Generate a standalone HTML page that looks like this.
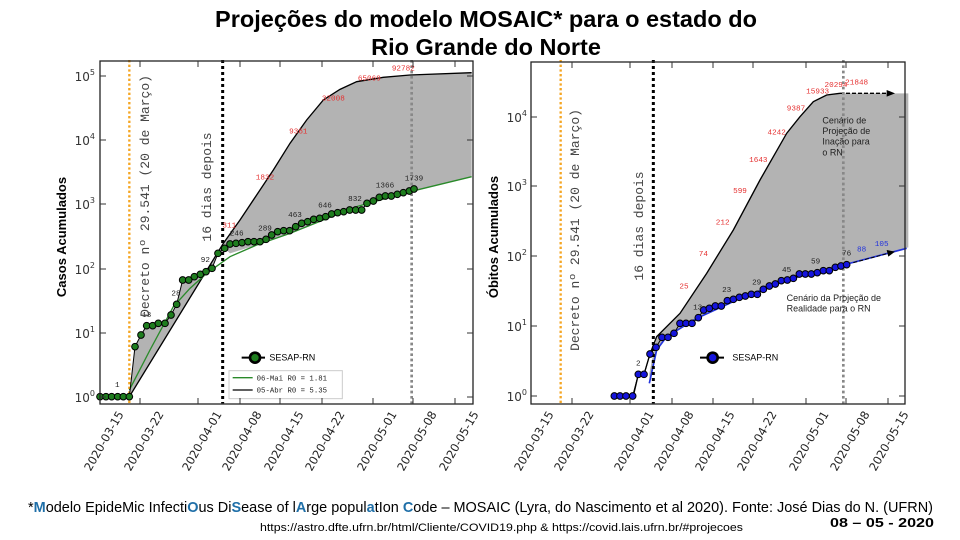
<!DOCTYPE html>
<html><head><meta charset="utf-8"><style>
html,body{margin:0;padding:0;background:#fff;}
svg{display:block;}
.mono{font-family:"Liberation Mono","DejaVu Sans Mono",monospace;}
.sans{font-family:"Liberation Sans",sans-serif;}
.dv{font-family:"DejaVu Sans",sans-serif;}
</style></head><body>
<svg width="960" height="540" viewBox="0 0 960 540" xmlns="http://www.w3.org/2000/svg">
<rect width="960" height="540" fill="#fff"/>
<!-- Title -->
<text x="486" y="27" text-anchor="middle" class="sans" font-weight="bold" font-size="23.5">Projeções do modelo  MOSAIC* para o estado do</text>
<text x="486" y="55" text-anchor="middle" class="sans" font-weight="bold" font-size="23.5">Rio Grande do Norte</text>

<!-- ===== LEFT PLOT ===== -->
<g transform="translate(90,60) scale(0.33333)">
  <polygon fill="#b3b3b3" points="118,1010 400,550 450,480 500,405 550,330 600,250 650,180 700,120 750,88 800,65 880,52 960,45 1145,38 1145,350 960,395 800,440 700,480 600,520 500,555 420,580 404,565 384,580 366,625 348,635 331,643 313,650 296,660 278,660 260,733 243,765 225,790 205,790 188,797 170,797 153,825 135,860"/>
  <polyline fill="none" stroke="#000" stroke-width="4" points="118,1010 400,550 450,480 500,405 550,330 600,250 650,180 700,120 750,88 800,65 880,52 960,45 1145,38"/>
  <polyline fill="none" stroke="#2a8a2a" stroke-width="4" points="118,990 180,870 250,740 300,685 350,640 420,590 500,555 600,520 700,480 800,440 960,395 1145,350"/>
  <line x1="118" y1="0" x2="118" y2="1030" stroke="#f5a623" stroke-width="7" stroke-dasharray="7,7"/>
  <line x1="398" y1="0" x2="398" y2="1030" stroke="#000" stroke-width="9" stroke-dasharray="9,9"/>
  <line x1="965" y1="0" x2="965" y2="1030" stroke="#888" stroke-width="8" stroke-dasharray="8,8"/>
  <polyline fill="none" stroke="#000" stroke-width="3" points="30,1010 48,1010 65,1010 83,1010 100,1010 118,1010 135,860 153,825 170,797 188,797 205,790 225,790 243,765 260,733 278,660 296,660 313,650 331,643 348,635 366,625 384,580 404,565 420,552 438,550 456,548 474,545 492,545 510,545 528,538 545,525 563,515 581,512 599,512 617,500 635,490 653,485 671,478 689,475 707,470 725,462 743,458 761,455 779,450 797,450 815,450 831,430 850,423 868,412 886,408 904,408 922,403 940,398 958,393 972,387"/>
  <g fill="#1e7d1e" stroke="#000" stroke-width="3">
  <circle cx="30" cy="1010" r="10"/><circle cx="48" cy="1010" r="10"/><circle cx="65" cy="1010" r="10"/><circle cx="83" cy="1010" r="10"/><circle cx="100" cy="1010" r="10"/><circle cx="118" cy="1010" r="10"/><circle cx="135" cy="860" r="10"/><circle cx="153" cy="825" r="10"/><circle cx="170" cy="797" r="10"/><circle cx="188" cy="797" r="10"/><circle cx="205" cy="790" r="10"/><circle cx="225" cy="790" r="10"/><circle cx="243" cy="765" r="10"/><circle cx="260" cy="733" r="10"/><circle cx="278" cy="660" r="10"/><circle cx="296" cy="660" r="10"/><circle cx="313" cy="650" r="10"/><circle cx="331" cy="643" r="10"/><circle cx="348" cy="635" r="10"/><circle cx="366" cy="625" r="10"/><circle cx="384" cy="580" r="10"/><circle cx="404" cy="565" r="10"/><circle cx="420" cy="552" r="10"/><circle cx="438" cy="550" r="10"/><circle cx="456" cy="548" r="10"/><circle cx="474" cy="545" r="10"/><circle cx="492" cy="545" r="10"/><circle cx="510" cy="545" r="10"/><circle cx="528" cy="538" r="10"/><circle cx="545" cy="525" r="10"/><circle cx="563" cy="515" r="10"/><circle cx="581" cy="512" r="10"/><circle cx="599" cy="512" r="10"/><circle cx="617" cy="500" r="10"/><circle cx="635" cy="490" r="10"/><circle cx="653" cy="485" r="10"/><circle cx="671" cy="478" r="10"/><circle cx="689" cy="475" r="10"/><circle cx="707" cy="470" r="10"/><circle cx="725" cy="462" r="10"/><circle cx="743" cy="458" r="10"/><circle cx="761" cy="455" r="10"/><circle cx="779" cy="450" r="10"/><circle cx="797" cy="450" r="10"/><circle cx="815" cy="450" r="10"/><circle cx="831" cy="430" r="10"/><circle cx="850" cy="423" r="10"/><circle cx="868" cy="412" r="10"/><circle cx="886" cy="408" r="10"/><circle cx="904" cy="408" r="10"/><circle cx="922" cy="403" r="10"/><circle cx="940" cy="398" r="10"/><circle cx="958" cy="393" r="10"/><circle cx="972" cy="387" r="10"/>
  </g>
  <g class="mono" font-size="23" fill="#e53030" text-anchor="middle">
  <text x="418" y="503">311</text><text x="525" y="358">1832</text><text x="625" y="221">9361</text><text x="730" y="121">32008</text><text x="838" y="61">65069</text><text x="940" y="31">92782</text>
  </g>
  <g class="mono" font-size="23" fill="#222" text-anchor="middle">
  <text x="82" y="981">1</text><text x="170" y="771">13</text><text x="258" y="706">28</text><text x="346" y="606">92</text><text x="440" y="526">246</text><text x="525" y="511">289</text><text x="615" y="471">463</text><text x="705" y="443">646</text><text x="795" y="423">832</text><text x="885" y="383">1366</text><text x="972" y="361">1739</text>
  </g>
  <line x1="455" y1="893" x2="525" y2="893" stroke="#000" stroke-width="6"/>
  <circle cx="495" cy="893" r="15" fill="#1e7d1e" stroke="#000" stroke-width="8"/>
  <text x="538" y="902" class="sans" font-size="27" fill="#000">SESAP-RN</text>
  <rect x="417" y="932" width="340" height="84" fill="#fff" stroke="#ccc" stroke-width="3"/>
  <line x1="428" y1="953" x2="488" y2="953" stroke="#2a8a2a" stroke-width="4"/>
  <line x1="428" y1="990" x2="488" y2="990" stroke="#000" stroke-width="4"/>
  <text x="500" y="961" class="mono" font-size="22" fill="#222">06-Mai R0 = 1.81</text>
  <text x="500" y="998" class="mono" font-size="22" fill="#222">05-Abr R0 = 5.35</text>
</g>
<text transform="translate(149,196) rotate(-90)" text-anchor="middle" class="mono" font-size="13" fill="#444">Decreto nº 29.541 (20 de Março)</text>
<text transform="translate(211,187) rotate(-90)" text-anchor="middle" class="mono" font-size="13" fill="#444">16 dias depois</text>
<rect x="100" y="61" width="373" height="343" fill="none" stroke="#222" stroke-width="1.3"/>
<g stroke="#333" stroke-width="1">
  <line x1="100" y1="76" x2="106" y2="76"/><line x1="100" y1="140" x2="106" y2="140"/><line x1="100" y1="204" x2="106" y2="204"/><line x1="100" y1="269" x2="106" y2="269"/><line x1="100" y1="333" x2="106" y2="333"/><line x1="100" y1="397" x2="106" y2="397"/>
  <line x1="473" y1="76" x2="467" y2="76"/><line x1="473" y1="140" x2="467" y2="140"/><line x1="473" y1="204" x2="467" y2="204"/><line x1="473" y1="269" x2="467" y2="269"/><line x1="473" y1="333" x2="467" y2="333"/><line x1="473" y1="397" x2="467" y2="397"/>
  <line x1="140" y1="404" x2="140" y2="398"/><line x1="198" y1="404" x2="198" y2="398"/><line x1="240" y1="404" x2="240" y2="398"/><line x1="280" y1="404" x2="280" y2="398"/><line x1="322" y1="404" x2="322" y2="398"/><line x1="373" y1="404" x2="373" y2="398"/><line x1="413" y1="404" x2="413" y2="398"/><line x1="455" y1="404" x2="455" y2="398"/>
  <line x1="140" y1="61" x2="140" y2="67"/><line x1="198" y1="61" x2="198" y2="67"/><line x1="240" y1="61" x2="240" y2="67"/><line x1="280" y1="61" x2="280" y2="67"/><line x1="322" y1="61" x2="322" y2="67"/><line x1="373" y1="61" x2="373" y2="67"/><line x1="413" y1="61" x2="413" y2="67"/><line x1="455" y1="61" x2="455" y2="67"/>
</g>
<g class="dv" font-size="12" fill="#333" text-anchor="end">
  <text x="95" y="81">10<tspan font-size="8" dy="-6">5</tspan></text><text x="95" y="145">10<tspan font-size="8" dy="-6">4</tspan></text><text x="95" y="209">10<tspan font-size="8" dy="-6">3</tspan></text><text x="95" y="274">10<tspan font-size="8" dy="-6">2</tspan></text><text x="95" y="338">10<tspan font-size="8" dy="-6">1</tspan></text><text x="95" y="402">10<tspan font-size="8" dy="-6">0</tspan></text>
</g>
<text transform="translate(66,237) rotate(-90)" text-anchor="middle" class="sans" font-weight="bold" font-size="13">Casos Acumulados</text>
<g class="dv" font-size="11.5" fill="#222" text-anchor="end">
  <text transform="translate(124,414) rotate(-60)">2020-03-15</text>
  <text transform="translate(164,414) rotate(-60)">2020-03-22</text>
  <text transform="translate(222,414) rotate(-60)">2020-04-01</text>
  <text transform="translate(262,414) rotate(-60)">2020-04-08</text>
  <text transform="translate(304,414) rotate(-60)">2020-04-15</text>
  <text transform="translate(345,414) rotate(-60)">2020-04-22</text>
  <text transform="translate(397,414) rotate(-60)">2020-05-01</text>
  <text transform="translate(437,414) rotate(-60)">2020-05-08</text>
  <text transform="translate(479,414) rotate(-60)">2020-05-15</text>
</g>

<!-- ===== RIGHT PLOT ===== -->
<g transform="translate(520,60) scale(0.33333)">
  <polygon fill="#b3b3b3" points="388,940 410,830 480,760 560,640 640,510 720,360 800,220 840,170 880,125 920,105 960,100 1165,100 1165,562 970,615 800,660 650,720 530,775 440,830 410,870 388,970"/>
  <polyline fill="none" stroke="#000" stroke-width="4" points="340,1008 355,943 372,943 390,882 410,830 480,760 560,640 640,510 720,360 800,220 840,170 880,125 920,105 960,100"/>
  <line x1="960" y1="100" x2="1105" y2="100" stroke="#000" stroke-width="4" stroke-dasharray="12,6"/>
  <polygon points="1100,90 1125,100 1100,110" fill="#000"/>
  <polyline fill="none" stroke="#2233dd" stroke-width="5" points="388,970 410,870 440,830 530,775 650,720 800,660 970,615 1160,565"/>
  <line x1="1000" y1="608" x2="1105" y2="580" stroke="#000" stroke-width="3" stroke-dasharray="12,6"/>
  <polygon points="1100,570 1125,575 1105,590" fill="#000"/>
  <line x1="122" y1="0" x2="122" y2="1030" stroke="#f5a623" stroke-width="7" stroke-dasharray="7,7"/>
  <line x1="400" y1="0" x2="400" y2="1030" stroke="#000" stroke-width="9" stroke-dasharray="9,9"/>
  <line x1="970" y1="0" x2="970" y2="1030" stroke="#888" stroke-width="8" stroke-dasharray="8,8"/>
  <polyline fill="none" stroke="#000" stroke-width="3" points="283,1008 300,1008 318,1008 338,1008 355,943 372,943 390,882 408,862 426,832 444,832 462,820 480,790 498,790 516,790 535,773 551,750 568,745 586,738 604,738 622,722 640,718 658,712 676,708 694,703 712,703 730,688 748,678 766,672 784,662 802,660 820,655 838,642 856,642 874,642 892,638 910,632 928,632 946,622 963,618 980,614"/>
  <g fill="#1515dd" stroke="#000" stroke-width="3">
  <circle cx="283" cy="1008" r="10"/><circle cx="300" cy="1008" r="10"/><circle cx="318" cy="1008" r="10"/><circle cx="338" cy="1008" r="10"/><circle cx="355" cy="943" r="10"/><circle cx="372" cy="943" r="10"/><circle cx="390" cy="882" r="10"/><circle cx="408" cy="862" r="10"/><circle cx="426" cy="832" r="10"/><circle cx="444" cy="832" r="10"/><circle cx="462" cy="820" r="10"/><circle cx="480" cy="790" r="10"/><circle cx="498" cy="790" r="10"/><circle cx="516" cy="790" r="10"/><circle cx="535" cy="773" r="10"/><circle cx="551" cy="750" r="10"/><circle cx="568" cy="745" r="10"/><circle cx="586" cy="738" r="10"/><circle cx="604" cy="738" r="10"/><circle cx="622" cy="722" r="10"/><circle cx="640" cy="718" r="10"/><circle cx="658" cy="712" r="10"/><circle cx="676" cy="708" r="10"/><circle cx="694" cy="703" r="10"/><circle cx="712" cy="703" r="10"/><circle cx="730" cy="688" r="10"/><circle cx="748" cy="678" r="10"/><circle cx="766" cy="672" r="10"/><circle cx="784" cy="662" r="10"/><circle cx="802" cy="660" r="10"/><circle cx="820" cy="655" r="10"/><circle cx="838" cy="642" r="10"/><circle cx="856" cy="642" r="10"/><circle cx="874" cy="642" r="10"/><circle cx="892" cy="638" r="10"/><circle cx="910" cy="632" r="10"/><circle cx="928" cy="632" r="10"/><circle cx="946" cy="622" r="10"/><circle cx="963" cy="618" r="10"/><circle cx="980" cy="614" r="10"/>
  </g>
  <g class="mono" font-size="23" fill="#e53030" text-anchor="middle">
  <text x="492" y="686">25</text><text x="550" y="588">74</text><text x="608" y="494">212</text><text x="660" y="399">599</text><text x="715" y="306">1643</text><text x="770" y="224">4242</text><text x="828" y="151">9387</text><text x="893" y="101">15933</text><text x="948" y="81">20294</text><text x="1010" y="74">21848</text>
  </g>
  <g class="mono" font-size="23" fill="#222" text-anchor="middle">
  <text x="355" y="916">2</text><text x="533" y="748">13</text><text x="620" y="696">23</text><text x="710" y="674">29</text><text x="800" y="636">45</text><text x="887" y="611">59</text><text x="980" y="586">76</text>
  </g>
  <g class="mono" font-size="23" fill="#2233dd" text-anchor="middle"><text x="1025" y="574">88</text><text x="1085" y="558">105</text></g>
  <g class="sans" font-size="27" fill="#222">
  <text x="907" y="190">Cenário de</text><text x="907" y="222">Projeção de</text><text x="907" y="254">Inação  para</text><text x="907" y="286">o  RN</text>
  <text x="800" y="723">Cenário da Projeção de</text><text x="800" y="755">Realidade para o RN</text>
  </g>
  <line x1="540" y1="893" x2="612" y2="893" stroke="#000" stroke-width="6"/>
  <circle cx="578" cy="893" r="15" fill="#1515dd" stroke="#000" stroke-width="8"/>
  <text x="637" y="902" class="sans" font-size="27" fill="#000">SESAP-RN</text>
</g>
<text transform="translate(579,230) rotate(-90)" text-anchor="middle" class="mono" font-size="13" fill="#444">Decreto nº 29.541 (20 de Março)</text>
<text transform="translate(643,226) rotate(-90)" text-anchor="middle" class="mono" font-size="13" fill="#444">16 dias depois</text>
<rect x="531" y="62" width="374" height="342" fill="none" stroke="#222" stroke-width="1.3"/>
<g stroke="#333" stroke-width="1">
  <line x1="531" y1="117" x2="537" y2="117"/><line x1="531" y1="186" x2="537" y2="186"/><line x1="531" y1="256" x2="537" y2="256"/><line x1="531" y1="326" x2="537" y2="326"/><line x1="531" y1="396" x2="537" y2="396"/>
  <line x1="905" y1="117" x2="899" y2="117"/><line x1="905" y1="186" x2="899" y2="186"/><line x1="905" y1="256" x2="899" y2="256"/><line x1="905" y1="326" x2="899" y2="326"/><line x1="905" y1="396" x2="899" y2="396"/>
  <line x1="572" y1="404" x2="572" y2="398"/><line x1="630" y1="404" x2="630" y2="398"/><line x1="672" y1="404" x2="672" y2="398"/><line x1="713" y1="404" x2="713" y2="398"/><line x1="753" y1="404" x2="753" y2="398"/><line x1="806" y1="404" x2="806" y2="398"/><line x1="846" y1="404" x2="846" y2="398"/><line x1="888" y1="404" x2="888" y2="398"/>
  <line x1="572" y1="62" x2="572" y2="68"/><line x1="630" y1="62" x2="630" y2="68"/><line x1="672" y1="62" x2="672" y2="68"/><line x1="713" y1="62" x2="713" y2="68"/><line x1="753" y1="62" x2="753" y2="68"/><line x1="806" y1="62" x2="806" y2="68"/><line x1="846" y1="62" x2="846" y2="68"/><line x1="888" y1="62" x2="888" y2="68"/>
</g>
<g class="dv" font-size="12" fill="#333" text-anchor="end">
  <text x="527" y="122">10<tspan font-size="8" dy="-6">4</tspan></text><text x="527" y="191">10<tspan font-size="8" dy="-6">3</tspan></text><text x="527" y="261">10<tspan font-size="8" dy="-6">2</tspan></text><text x="527" y="331">10<tspan font-size="8" dy="-6">1</tspan></text><text x="527" y="401">10<tspan font-size="8" dy="-6">0</tspan></text>
</g>
<text transform="translate(498,237) rotate(-90)" text-anchor="middle" class="sans" font-weight="bold" font-size="13">Óbitos Acumulados</text>
<g class="dv" font-size="11.5" fill="#222" text-anchor="end">
  <text transform="translate(554,414) rotate(-60)">2020-03-15</text>
  <text transform="translate(594,414) rotate(-60)">2020-03-22</text>
  <text transform="translate(654,414) rotate(-60)">2020-04-01</text>
  <text transform="translate(694,414) rotate(-60)">2020-04-08</text>
  <text transform="translate(735,414) rotate(-60)">2020-04-15</text>
  <text transform="translate(777,414) rotate(-60)">2020-04-22</text>
  <text transform="translate(829,414) rotate(-60)">2020-05-01</text>
  <text transform="translate(870,414) rotate(-60)">2020-05-08</text>
  <text transform="translate(909,414) rotate(-60)">2020-05-15</text>
</g>

<!-- Footer -->
<text x="28" y="512" class="sans" font-size="15" fill="#000" textLength="905" lengthAdjust="spacingAndGlyphs">*<tspan fill="#1f6fa8" font-weight="bold">M</tspan>odelo EpideMic Infecti<tspan fill="#1f6fa8" font-weight="bold">O</tspan>us Di<tspan fill="#1f6fa8" font-weight="bold">S</tspan>ease of l<tspan fill="#1f6fa8" font-weight="bold">A</tspan>rge popul<tspan fill="#1f6fa8" font-weight="bold">a</tspan>tIon <tspan fill="#1f6fa8" font-weight="bold">C</tspan>ode – MOSAIC (Lyra, do Nascimento et al 2020). Fonte: José Dias do N. (UFRN)</text>
<text x="260" y="531" class="sans" font-size="11" fill="#000" textLength="483" lengthAdjust="spacingAndGlyphs">https://astro.dfte.ufrn.br/html/Cliente/COVID19.php  &amp;  https://covid.lais.ufrn.br/#projecoes</text>
<text x="830" y="527" class="sans" font-size="13" font-weight="bold" fill="#000" textLength="104" lengthAdjust="spacingAndGlyphs">08 – 05 - 2020</text>
</svg>
</body></html>
